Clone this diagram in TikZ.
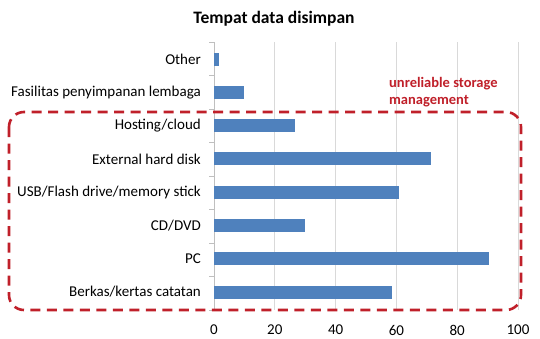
\documentclass[tikz,border=0pt]{standalone}
\usepackage{fontspec}
\setmainfont{Carlito}
\definecolor{barblue}{HTML}{4F81BD}
\definecolor{gridgray}{HTML}{D9D9D9}
\definecolor{axisgray}{HTML}{BFBFBF}
\definecolor{alertred}{HTML}{C0202A}
\begin{document}
\begin{tikzpicture}[x=1pt,y=-1pt,
  bar/.style={fill=barblue,draw=none},
  catlabel/.style={anchor=east,font=\fontsize{15}{17}\selectfont,inner sep=0pt},
  ticklabel/.style={anchor=center,font=\fontsize{15}{17}\selectfont,inner sep=0pt},
  gridline/.style={draw=gridgray,line width=0.8pt},
  region/.style={draw=alertred,line width=2.6pt,dash pattern=on 10pt off 6.5pt,rounded corners=15pt}]
\useasboundingbox (0,0) rectangle (540,338);
\fill[white] (0,0) rectangle (540,338);
% value axis: 0 at x=214, 3.04 units per percent
\def\xo{214}
\def\sc{3.04}
% vertical gridlines and tick labels
\foreach \v in {20,40,60,80,100}{
  \draw[gridline] ({\xo+\sc*\v},42) -- ({\xo+\sc*\v},310);
}
\foreach \v in {0,20,40,60,80,100}{
  \node[ticklabel] (tick\v) at ({\xo+\sc*\v},330) {\v};
}
% category axis with its small ticks
\draw[axisgray,line width=0.8pt] (\xo,42) -- (\xo,310);
\foreach \i in {0,...,8}{
  \draw[axisgray,line width=0.8pt] (\xo-5,{42+33.5*\i}) -- (\xo,{42+33.5*\i});
}
% bars with category labels
\foreach \i/\v/\t in {0/1.5/Other,
                     1/9.8/Fasilitas penyimpanan lembaga,
                     2/26.8/Hosting\slash cloud,
                     3/71.4/External hard disk,
                     4/60.7/USB\slash Flash drive\slash memory stick,
                     5/30/CD\slash DVD,
                     6/90.4/PC,
                     7/58.7/Berkas\slash kertas catatan}{
  \pgfmathsetmacro{\yc}{59+33.3*\i}
  \fill[bar] (\xo,{\yc-6.5}) rectangle ({\xo+\sc*\v},{\yc+6.5});
  \node[catlabel] (cat\i) at (201,\yc) {\t};
}
% title
\node[font=\fontsize{17.5}{19}\selectfont\bfseries,inner sep=0pt] (title) at (274,19) {Tempat data disimpan};
% dashed region around the unreliable storage categories
\draw[region] (9,112) rectangle (521,310);
\node[anchor=base west,align=left,text=alertred,font=\fontsize{14.5}{17}\selectfont\bfseries,inner sep=0pt] (note) at (389,104) {unreliable storage\\management};
\end{tikzpicture}
\end{document}
